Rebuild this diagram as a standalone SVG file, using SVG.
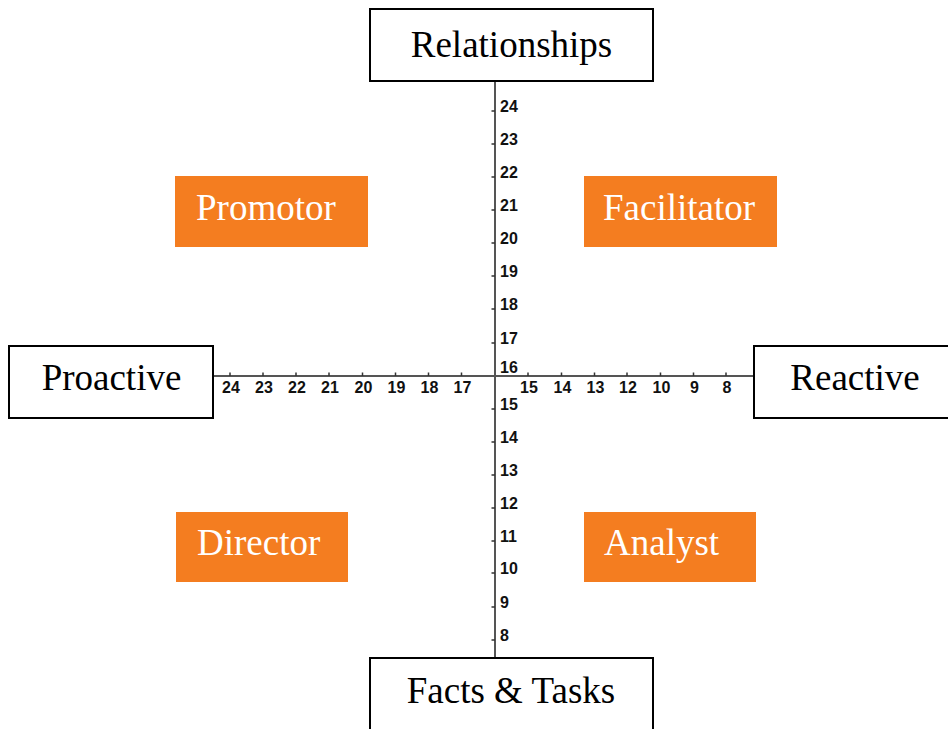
<svg xmlns="http://www.w3.org/2000/svg" width="948" height="729" viewBox="0 0 948 729">
<style>
.box{fill:#fff;stroke:#000;stroke-width:2}
.lbl{font-family:"Liberation Serif","Times New Roman",serif;font-size:37px;fill:#000}
.q{fill:#F47D20}
.qt{font-family:"Liberation Serif","Times New Roman",serif;font-size:37px;fill:#fff}
.axis{stroke:#555;stroke-width:2;fill:none}
.tick{stroke:#333;stroke-width:1.5}
.num{font-family:"Liberation Sans",Arial,sans-serif;font-weight:bold;font-size:16px;fill:#111}
.hn{text-anchor:middle}
</style>
<rect width="948" height="729" fill="#fff"/>
<g id="connectors">
<line class="axis" x1="495" y1="81" x2="495" y2="658"/>
<line class="axis" x1="213" y1="376" x2="754" y2="376"/>
<g id="vticks">
<path class="tick" d="M491.5 111H495M491.5 144H495M491.5 177H495M491.5 210H495M491.5 243H495M491.5 276H495M491.5 309H495M491.5 343H495M491.5 409H495M491.5 442H495M491.5 475H495M491.5 508H495M491.5 541H495M491.5 573H495M491.5 607H495M491.5 640H495"/>
</g>
<g id="hticks">
<path class="tick" d="M230 372.5V376M263 372.5V376M296 372.5V376M329 372.5V376M362.5 372.5V376M395.5 372.5V376M428.5 372.5V376M461.5 372.5V376M528 372.5V376M561.5 372.5V376M594.5 372.5V376M627 372.5V376M660.5 372.5V376M693.5 372.5V376M726 372.5V376"/>
</g>
<g id="vnums" class="num">
<text x="500" y="112">24</text>
<text x="500" y="145">23</text>
<text x="500" y="178">22</text>
<text x="500" y="211">21</text>
<text x="500" y="244">20</text>
<text x="500" y="277">19</text>
<text x="500" y="310">18</text>
<text x="500" y="344">17</text>
<text x="500" y="373">16</text>
<text x="500" y="410">15</text>
<text x="500" y="443">14</text>
<text x="500" y="476">13</text>
<text x="500" y="509">12</text>
<text x="500" y="542">11</text>
<text x="500" y="574">10</text>
<text x="500" y="608">9</text>
<text x="500" y="641">8</text>
</g>
<g id="hnums" class="num hn">
<text x="231" y="392.5">24</text>
<text x="264" y="392.5">23</text>
<text x="297" y="392.5">22</text>
<text x="330" y="392.5">21</text>
<text x="363.5" y="392.5">20</text>
<text x="396.5" y="392.5">19</text>
<text x="429.5" y="392.5">18</text>
<text x="462.5" y="392.5">17</text>
<text x="529" y="392.5">15</text>
<text x="562.5" y="392.5">14</text>
<text x="595.5" y="392.5">13</text>
<text x="628" y="392.5">12</text>
<text x="661.5" y="392.5">10</text>
<text x="694.5" y="392.5">9</text>
<text x="727" y="392.5">8</text>
</g>
</g>
<g id="relationships">
<rect class="box" x="370" y="9" width="283" height="72"/>
<text class="lbl" x="511.5" y="56.5" text-anchor="middle">Relationships</text>
</g>
<g id="facts">
<rect class="box" x="370" y="658" width="283" height="80"/>
<text class="lbl" x="511" y="703" text-anchor="middle">Facts &amp; Tasks</text>
</g>
<g id="proactive">
<rect class="box" x="9" y="346" width="204" height="72"/>
<text class="lbl" x="111.5" y="390" text-anchor="middle">Proactive</text>
</g>
<g id="reactive">
<rect class="box" x="754" y="346" width="200" height="72"/>
<text class="lbl" x="855" y="390" text-anchor="middle">Reactive</text>
</g>
<g id="promotor">
<rect class="q" x="175" y="176" width="193" height="71"/>
<text class="qt" x="196" y="220">Promotor</text>
</g>
<g id="facilitator">
<rect class="q" x="584" y="176" width="193" height="71"/>
<text class="qt" x="603" y="220">Facilitator</text>
</g>
<g id="director">
<rect class="q" x="176" y="512" width="172" height="70"/>
<text class="qt" x="197" y="555">Director</text>
</g>
<g id="analyst">
<rect class="q" x="584" y="512" width="172" height="70"/>
<text class="qt" x="604" y="555">Analyst</text>
</g>
</svg>
